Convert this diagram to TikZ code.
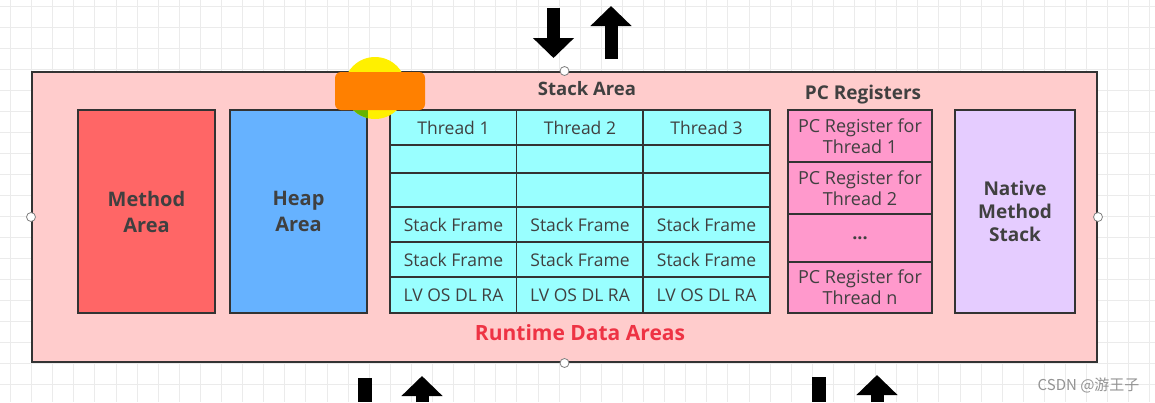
\documentclass[tikz,border=0pt]{standalone}
\usepackage{fontspec}
\setmainfont{Open Sans}
\newfontfamily\cjkfont{Noto Sans CJK SC}
\usetikzlibrary{arrows.meta,positioning}
\definecolor{rdapink}{HTML}{FFCCCC}
\definecolor{methodred}{HTML}{FF6666}
\definecolor{heapblue}{HTML}{66B2FF}
\definecolor{stackcyan}{HTML}{99FFFF}
\definecolor{pcpink}{HTML}{FF99CC}
\definecolor{nativelilac}{HTML}{E5CCFF}
\definecolor{boxline}{HTML}{333333}
\definecolor{txtgrey}{HTML}{404040}
\definecolor{rdared}{HTML}{EE3344}
\definecolor{gridgrey}{HTML}{EBEBEB}
\definecolor{hlorange}{HTML}{FF8000}
\definecolor{hlyellow}{HTML}{FFF000}
\definecolor{hlgreen}{HTML}{66B400}

\begin{document}
\begin{tikzpicture}[x=1pt,y=-1pt,
  area/.style={draw=boxline,line width=1.6pt,minimum width=137pt,minimum height=203pt,
    font=\fontsize{20}{26}\selectfont\bfseries,text=txtgrey,align=center,inner sep=0pt},
  cell/.style={draw=boxline,line width=1.6pt,fill=stackcyan,minimum width=126.7pt,
    font=\fontsize{17.5}{20}\selectfont,text=txtgrey,inner sep=0pt},
  pcreg/.style={draw=boxline,line width=1.6pt,fill=pcpink,minimum width=144pt,
    font=\fontsize{18}{21}\selectfont,text=txtgrey,align=center,inner sep=0pt},
  title/.style={font=\fontsize{18.5}{22}\selectfont\bfseries,text=txtgrey},
  port/.style={circle,draw=gray,fill=white,line width=0.8pt,minimum size=9pt,inner sep=0pt},
  blockarrow/.style={line width=13pt,-{Triangle[width=40pt,length=20pt]}},
]
  \useasboundingbox (0,0) rectangle (1155,402);
  % Background grid
  \fill[white] (0,0) rectangle (1155,402);
  \foreach \gx in {10.5,31.6,...,1155} \draw[gridgrey,line width=1pt] (\gx,0) -- (\gx,402);
  \foreach \gy in {6.7,27.7,...,402} \draw[gridgrey,line width=1pt] (0,\gy) -- (1155,\gy);
  % Runtime data areas frame
  \node[draw=boxline,line width=2pt,fill=rdapink,minimum width=1065pt,minimum height=290pt,inner sep=0pt]
    (rda) at (564.5,217) {};
  \node[font=\fontsize{21}{24}\selectfont\bfseries,text=rdared] (rdalabel) at (580,333) {Runtime Data Areas};
  % Method and heap
  \node[area,fill=methodred] (method) at (146.5,211.5) {Method\\Area};
  \node[area,fill=heapblue] (heap) at (298.5,211.5) {Heap\\Area};
  % Stack area -- headers
  \node[title] (stacktitle) at (587,89) {Stack Area};
  \node[cell,minimum height=35pt] (t1) at (453.5,127.5) {Thread 1};
  \node[cell,minimum height=35pt] (t2) at (580,127.5) {Thread 2};
  \node[cell,minimum height=35pt] (t3) at (706.5,127.5) {Thread 3};
  % Stack area -- empty rows
  \node[cell,minimum height=28pt] (e11) at (453.5,159) {};
  \node[cell,minimum height=28pt] (e12) at (580,159) {};
  \node[cell,minimum height=28pt] (e13) at (706.5,159) {};
  \node[cell,minimum height=34pt] (e21) at (453.5,190) {};
  \node[cell,minimum height=34pt] (e22) at (580,190) {};
  \node[cell,minimum height=34pt] (e23) at (706.5,190) {};
  % Stack area -- frames
  \node[cell,minimum height=35pt] (f11) at (453.5,224.5) {Stack Frame};
  \node[cell,minimum height=35pt] (f12) at (580,224.5) {Stack Frame};
  \node[cell,minimum height=35pt] (f13) at (706.5,224.5) {Stack Frame};
  \node[cell,minimum height=35pt] (f21) at (453.5,259.5) {Stack Frame};
  \node[cell,minimum height=35pt] (f22) at (580,259.5) {Stack Frame};
  \node[cell,minimum height=35pt] (f23) at (706.5,259.5) {Stack Frame};
  \node[cell,minimum height=36pt] (lv1) at (453.5,295) {LV OS DL RA};
  \node[cell,minimum height=36pt] (lv2) at (580,295) {LV OS DL RA};
  \node[cell,minimum height=36pt] (lv3) at (706.5,295) {LV OS DL RA};
  % PC registers
  \node[title,font=\fontsize{19}{22}\selectfont\bfseries] (pctitle) at (863,95) {PC Registers};
  \node[pcreg,minimum height=52pt] (pc1) at (860,136) {PC Register for\\Thread 1};
  \node[pcreg,minimum height=52pt] (pc2) at (860,188) {PC Register for\\Thread 2};
  \node[pcreg,minimum height=48pt] (pcdots) at (860,238) {\bfseries ...};
  \node[pcreg,minimum height=51pt] (pcn) at (860,287.5) {PC Register for\\Thread n};
  % Native method stack
  \node[area,fill=nativelilac,minimum width=120pt,font=\fontsize{19}{23}\selectfont\bfseries]
    (native) at (1015,211.5) {Native\\Method\\Stack};
  % Ports
  \node[port] (pn) at (rda.north) {};
  \node[port] (ps) at (rda.south) {};
  \node[port] (pw) at (rda.west) {};
  \node[port] (pe) at (rda.east) {};
  % Cursor highlight
  \fill[hlyellow] (375,88) circle (31);
  \begin{scope}
    \clip (heap.north west) rectangle (heap.south east);
    \fill[hlgreen] (375,88) circle (31);
  \end{scope}
  \fill[hlorange,rounded corners=6pt] (335,72) rectangle (425,110);
  % Arrows in and out
  \coordinate (topdn1) at (553.5,8);
  \coordinate (topdn2) at (553.5,58);
  \coordinate (topup1) at (611,59);
  \coordinate (topup2) at (611,6);
  \draw[blockarrow] (topdn1) -- (topdn2);
  \draw[blockarrow] (topup1) -- (topup2);
  \coordinate (botdnA) at (364.5,378);
  \coordinate (botdnB) at (364.5,402);
  \coordinate (botupA) at (422,402);
  \coordinate (botupB) at (422,376);
  \draw[line width=14pt] (botdnA) -- (botdnB);
  \draw[blockarrow] (botupA) -- (botupB);
  \coordinate (botdnC) at (819,377);
  \coordinate (botdnD) at (819,402);
  \coordinate (botupC) at (877,402);
  \coordinate (botupD) at (877,375);
  \draw[line width=14pt] (botdnC) -- (botdnD);
  \draw[blockarrow] (botupC) -- (botupD);
  % Watermark
  \node[font=\cjkfont\fontsize{15}{18}\selectfont,text=gray!85,anchor=east] (mark) at (1143,385) {CSDN @游王子};
\end{tikzpicture}
\end{document}
